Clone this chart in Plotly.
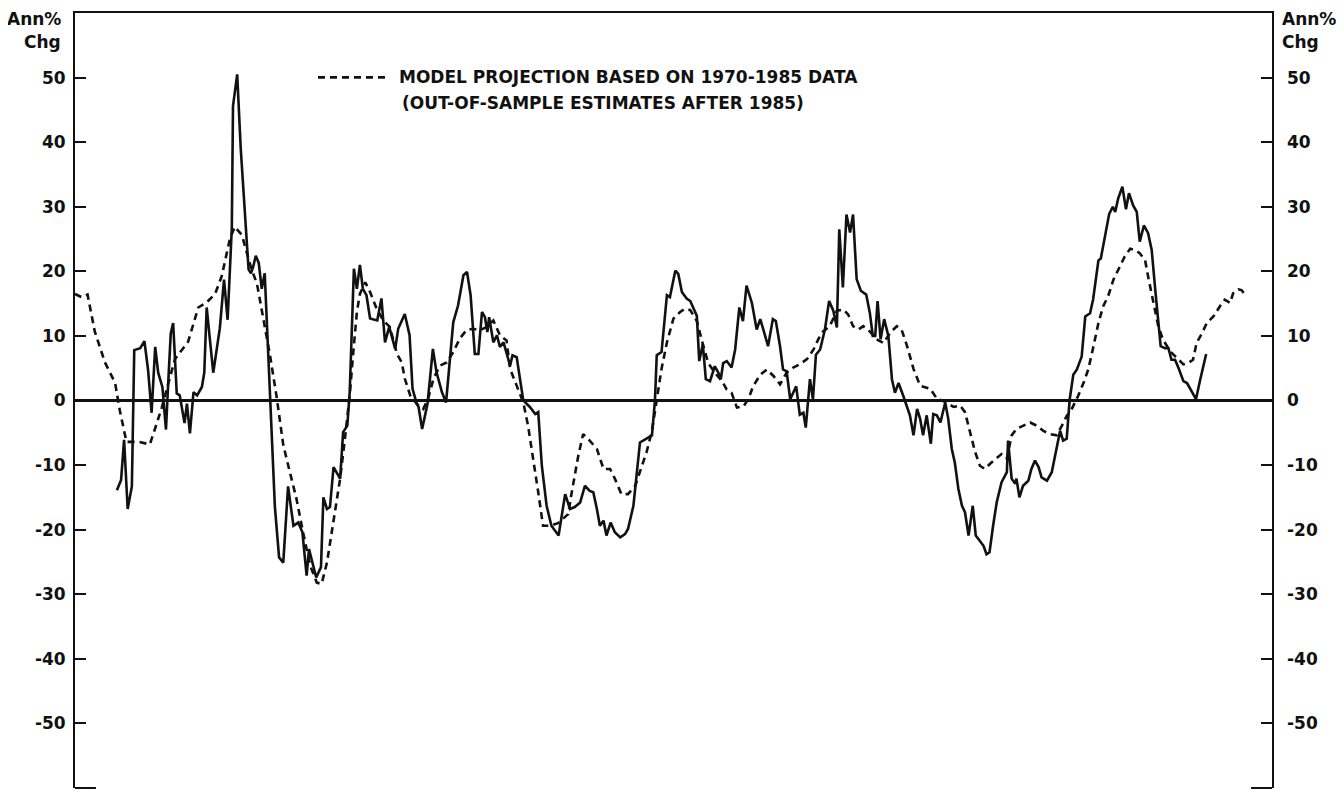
import plotly.graph_objects as go

# ---- data (x = decimal year, y = annual % change) ----
model_years = [1970.00, 1970.11, 1970.21, 1970.33, 1970.50, 1970.67, 1970.75, 1970.86, 1971.06, 1971.25,
               1971.34, 1971.45, 1971.56, 1971.67, 1971.89, 1972.06, 1972.20, 1972.34, 1972.45, 1972.59,
               1972.67, 1972.79, 1972.87, 1972.95, 1973.04, 1973.15, 1973.26, 1973.37, 1973.48, 1973.59,
               1973.70, 1973.81, 1973.93, 1974.04, 1974.12, 1974.21, 1974.32, 1974.43, 1974.51, 1974.59,
               1974.65, 1974.71, 1974.76, 1974.85, 1974.93, 1975.04, 1975.15, 1975.26, 1975.38, 1975.46,
               1975.51, 1975.60, 1975.71, 1975.82, 1975.90, 1975.99, 1976.10, 1976.21, 1976.32, 1976.43,
               1976.54, 1976.65, 1976.77, 1976.88, 1976.99, 1977.10, 1977.21, 1977.27, 1977.38, 1977.49,
               1977.57, 1977.66, 1977.74, 1977.82, 1977.94, 1978.07, 1978.24, 1978.30, 1978.41, 1978.49,
               1978.60, 1978.72, 1978.83, 1978.94, 1979.02, 1979.13, 1979.24, 1979.36, 1979.44, 1979.55,
               1979.64, 1979.72, 1979.80, 1979.89, 1980.00, 1980.11, 1980.19, 1980.28, 1980.39, 1980.50,
               1980.58, 1980.69, 1980.81, 1980.89, 1980.97, 1981.06, 1981.17, 1981.25, 1981.33, 1981.45,
               1981.56, 1981.67, 1981.78, 1981.89, 1982.00, 1982.11, 1982.23, 1982.34, 1982.42, 1982.50,
               1982.61, 1982.73, 1982.84, 1982.92, 1983.00, 1983.09, 1983.17, 1983.28, 1983.39, 1983.51,
               1983.62, 1983.73, 1983.81, 1983.90, 1984.01, 1984.12, 1984.29, 1984.40, 1984.56, 1984.68,
               1984.79, 1984.87, 1984.95, 1985.04, 1985.12, 1985.20, 1985.29, 1985.40, 1985.48, 1985.57,
               1985.65, 1985.73, 1985.84, 1985.96, 1986.07, 1986.18, 1986.29, 1986.40, 1986.49, 1986.57,
               1986.65, 1986.76, 1986.85, 1986.93, 1987.01, 1987.10, 1987.18, 1987.26, 1987.35, 1987.46,
               1987.54, 1987.63, 1987.71, 1987.79, 1987.88, 1987.93, 1987.99, 1988.05, 1988.10, 1988.18,
               1988.30, 1988.41, 1988.52, 1988.60, 1988.68, 1988.74, 1988.83, 1988.91, 1989.02, 1989.13,
               1989.21, 1989.30, 1989.35, 1989.44, 1989.49, 1989.55]
model_values = [16.5, 16.0, 16.4, 10.7, 5.9, 2.7, -1.6, -6.4, -6.4, -6.8,
                -4.3, -1.1, 2.7, 6.4, 9.1, 14.4, 15.2, 16.5, 19.2, 25.1,
                26.9, 25.6, 22.9, 20.3, 18.1, 12.8, 6.9, 0.5, -6.9, -11.1,
                -15.2, -20.4, -25.6, -28.2, -28.4, -25.1, -18.9, -12.1, -5.9, 0.8,
                7.5, 13.7, 16.5, 18.3, 16.8, 14.2, 12.4, 11.4, 7.2, 5.9,
                3.4, 0.8, -0.5, -1.3, 0.3, 3.4, 5.4, 5.9, 7.5, 9.6,
                10.9, 11.1, 10.9, 11.4, 12.4, 10.1, 9.3, 4.9, 2.3, -0.3,
                -3.9, -9.0, -14.2, -19.4, -19.4, -19.0, -17.6, -14.2, -8.5, -5.2,
                -6.2, -7.5, -10.6, -10.6, -12.1, -14.5, -14.5, -13.2, -11.1, -8.0,
                -4.7, 0.3, 4.9, 9.0, 12.7, 13.7, 14.2, 14.0, 12.3, 8.4,
                5.8, 4.3, 3.0, 1.7, 1.2, -1.1, -0.9, 0.2, 2.2, 4.0,
                4.8, 3.8, 2.5, 4.3, 5.1, 5.6, 6.4, 7.9, 9.5, 10.7,
                11.5, 13.9, 14.1, 13.3, 11.5, 11.0, 11.5, 10.7, 9.5, 8.9,
                10.5, 11.5, 11.0, 8.5, 4.9, 2.3, 1.8, 0.3, -0.3, -1.0,
                -0.8, -1.8, -4.9, -8.0, -10.1, -10.6, -9.8, -9.0, -8.3, -9.0,
                -5.4, -4.4, -3.9, -3.4, -3.9, -4.7, -5.2, -5.4, -3.9, -2.4,
                -1.4, 0.7, 2.7, 4.8, 8.1, 12.0, 14.6, 16.1, 18.7, 20.7,
                22.3, 23.5, 23.3, 22.8, 21.7, 19.2, 16.6, 14.0, 11.5, 9.4,
                7.6, 6.6, 5.6, 5.8, 6.3, 8.9, 10.4, 12.0, 13.0, 14.6,
                15.6, 15.1, 16.6, 17.2, 17.1, 16.4]

actual_years = [1970.70, 1970.77, 1970.82, 1970.88, 1970.95, 1970.99, 1971.09, 1971.16, 1971.22, 1971.28,
                1971.34, 1971.39, 1971.46, 1971.52, 1971.56, 1971.60, 1971.64, 1971.70, 1971.75, 1971.83,
                1971.87, 1971.92, 1971.98, 1972.04, 1972.12, 1972.16, 1972.20, 1972.31, 1972.42, 1972.49,
                1972.55, 1972.62, 1972.64, 1972.71, 1972.77, 1972.81, 1972.90, 1972.94, 1972.98, 1973.02,
                1973.07, 1973.12, 1973.17, 1973.23, 1973.29, 1973.34, 1973.41, 1973.48, 1973.56, 1973.65,
                1973.73, 1973.80, 1973.87, 1973.91, 1974.03, 1974.11, 1974.15, 1974.21, 1974.26, 1974.32,
                1974.43, 1974.48, 1974.55, 1974.59, 1974.66, 1974.71, 1974.76, 1974.81, 1974.87, 1974.93,
                1975.05, 1975.12, 1975.18, 1975.25, 1975.35, 1975.40, 1975.51, 1975.59, 1975.64, 1975.71,
                1975.74, 1975.80, 1975.89, 1975.98, 1976.04, 1976.13, 1976.20, 1976.25, 1976.32, 1976.40,
                1976.49, 1976.55, 1976.61, 1976.68, 1976.74, 1976.80, 1976.85, 1976.89, 1976.92, 1976.99,
                1977.05, 1977.10, 1977.16, 1977.27, 1977.31, 1977.38, 1977.44, 1977.49, 1977.60, 1977.69,
                1977.74, 1977.80, 1977.88, 1977.96, 1978.08, 1978.19, 1978.27, 1978.35, 1978.44, 1978.52,
                1978.60, 1978.66, 1978.72, 1978.77, 1978.83, 1978.88, 1978.95, 1979.02, 1979.11, 1979.19,
                1979.24, 1979.33, 1979.44, 1979.55, 1979.64, 1979.69, 1979.72, 1979.80, 1979.89, 1979.94,
                1980.03, 1980.08, 1980.14, 1980.22, 1980.28, 1980.39, 1980.43, 1980.49, 1980.54, 1980.61,
                1980.69, 1980.75, 1980.79, 1980.83, 1980.89, 1980.97, 1981.03, 1981.10, 1981.16, 1981.22,
                1981.31, 1981.39, 1981.45, 1981.51, 1981.58, 1981.66, 1981.71, 1981.78, 1981.83, 1981.89,
                1981.95, 1982.05, 1982.11, 1982.17, 1982.21, 1982.28, 1982.33, 1982.38, 1982.45, 1982.53,
                1982.60, 1982.67, 1982.73, 1982.77, 1982.83, 1982.89, 1982.95, 1983.00, 1983.06, 1983.13,
                1983.22, 1983.28, 1983.33, 1983.37, 1983.41, 1983.46, 1983.52, 1983.59, 1983.65, 1983.70,
                1983.76, 1983.84, 1983.90, 1983.95, 1984.01, 1984.07, 1984.12, 1984.17, 1984.23, 1984.30,
                1984.34, 1984.40, 1984.46, 1984.54, 1984.59, 1984.65, 1984.70, 1984.76, 1984.82, 1984.87,
                1984.93, 1985.00, 1985.05, 1985.12, 1985.18, 1985.23, 1985.28, 1985.34, 1985.40, 1985.48,
                1985.57, 1985.59, 1985.65, 1985.71, 1985.73, 1985.78, 1985.84, 1985.93, 1985.98, 1986.04,
                1986.10, 1986.15, 1986.24, 1986.32, 1986.40, 1986.46, 1986.51, 1986.57, 1986.62, 1986.68,
                1986.74, 1986.82, 1986.88, 1986.96, 1987.01, 1987.10, 1987.14, 1987.21, 1987.28, 1987.34,
                1987.38, 1987.43, 1987.50, 1987.56, 1987.61, 1987.68, 1987.74, 1987.79, 1987.86, 1987.93,
                1987.99, 1988.05, 1988.10, 1988.14, 1988.21, 1988.27, 1988.32, 1988.38, 1988.44, 1988.52,
                1988.58, 1988.66, 1988.73, 1988.80, 1988.90]
actual_values = [-13.9, -12.3, -6.1, -16.8, -13.3, 7.8, 8.1, 9.2, 4.8, -1.9,
                 8.3, 4.3, 2.1, -4.5, 3.2, 10.4, 12.0, 1.1, 0.8, -3.5,
                 -0.5, -5.1, 1.3, 0.8, 2.1, 4.3, 14.4, 4.3, 11.2, 18.7,
                 12.5, 26.7, 45.6, 50.5, 38.9, 33.6, 20.3, 19.7, 20.8, 22.4,
                 21.3, 17.3, 19.7, 6.9, -5.9, -16.5, -24.3, -25.1, -13.3, -19.4,
                 -18.9, -20.4, -27.1, -23.0, -27.4, -25.8, -15.0, -16.8, -16.5, -10.3,
                 -12.1, -4.9, -3.9, 1.3, 20.4, 17.3, 21.0, 17.3, 16.3, 12.7,
                 12.4, 15.8, 9.0, 11.4, 8.0, 11.1, 13.4, 10.1, 1.8, -0.5,
                 -1.0, -4.4, -0.5, 8.0, 4.4, 1.3, -0.3, 4.4, 12.1, 14.7,
                 19.4, 19.9, 16.3, 7.2, 7.2, 13.7, 12.9, 10.6, 12.9, 9.0,
                 10.1, 8.3, 9.0, 5.4, 7.0, 6.7, 3.4, 0.0, -1.0, -2.1,
                 -1.8, -10.1, -16.3, -19.4, -20.9, -14.5, -16.8, -16.5, -15.8, -13.2,
                 -14.0, -14.2, -16.8, -19.4, -18.6, -20.9, -18.9, -20.4, -21.2, -20.7,
                 -19.9, -16.3, -6.5, -5.9, -5.4, 0.0, 7.0, 7.5, 16.3, 16.0,
                 20.1, 19.6, 16.8, 15.8, 15.4, 13.1, 6.1, 8.7, 3.3, 3.0,
                 5.3, 4.3, 3.3, 5.8, 6.1, 5.1, 7.9, 14.4, 12.3, 17.8,
                 15.1, 11.0, 12.6, 10.7, 8.4, 12.6, 12.3, 8.4, 4.8, 4.5,
                 0.2, 2.2, -2.2, -1.9, -4.2, 3.3, 0.2, 7.1, 7.9, 11.0,
                 15.4, 13.9, 11.3, 26.5, 17.5, 28.8, 26.0, 28.8, 18.8, 17.0,
                 16.4, 13.6, 10.0, 10.0, 15.4, 9.5, 12.6, 10.0, 3.3, 1.2,
                 2.7, 0.7, -1.0, -2.3, -5.4, -1.3, -2.8, -5.4, -2.3, -6.7,
                 -2.1, -2.3, -3.4, -0.3, -2.8, -7.5, -9.6, -13.7, -16.3, -17.3,
                 -20.9, -16.3, -20.9, -21.7, -22.5, -23.8, -23.5, -19.4, -15.8, -12.7,
                 -11.1, -6.2, -12.1, -12.9, -12.1, -15.0, -13.2, -12.4, -10.6, -9.3,
                 -10.3, -11.9, -12.4, -11.1, -7.5, -4.7, -6.2, -5.9, 0.2, 4.0,
                 4.8, 6.8, 13.0, 13.5, 15.6, 21.7, 22.0, 25.3, 28.9, 30.0,
                 29.2, 31.3, 33.1, 29.6, 32.1, 30.2, 29.2, 24.6, 27.1, 25.9,
                 23.3, 17.1, 12.0, 8.4, 8.1, 8.1, 6.3, 6.3, 5.0, 3.0,
                 2.7, 1.4, 0.2, 3.2, 7.2]

tick_values = [50, 40, 30, 20, 10, 0, -10, -20, -30, -40, -50]
tick_labels = ["50", "40", "30", "20", "10", "0", "-10", "-20", "-30", "-40", "-50"]
y_range = [-60, 60]
x_range = [1970, 1990]
legend_line1 = "MODEL PROJECTION BASED ON 1970-1985 DATA"
legend_line2 = "(OUT-OF-SAMPLE ESTIMATES AFTER 1985)"
axis_title_1 = "Ann%"
axis_title_2 = "Chg"

FONT = "DejaVu Sans, Liberation Sans, Arial, sans-serif"
INK = "#111111"

fig = go.Figure()
fig.add_trace(go.Scatter(x=model_years, y=model_values, mode="lines",
                         line=dict(color=INK, width=2.6, dash="7px,5px"),
                         showlegend=False, hoverinfo="skip"))
fig.add_trace(go.Scatter(x=actual_years, y=actual_values, mode="lines",
                         line=dict(color=INK, width=2.6),
                         showlegend=False, hoverinfo="skip"))
# invisible trace to activate right axis
fig.add_trace(go.Scatter(x=[x_range[0]], y=[0], yaxis="y2", mode="markers",
                         marker=dict(opacity=0), showlegend=False, hoverinfo="skip"))

tickfont = dict(family=FONT, size=17, color=INK, weight=700)
textfont = dict(family=FONT, size=17, color=INK, weight=700)

fig.update_layout(
    width=1336, height=784,
    margin=dict(l=67, r=72, t=5, b=4),
    paper_bgcolor="white", plot_bgcolor="white",
    xaxis=dict(range=x_range, side="top", showline=True, linecolor=INK, linewidth=2,
               showticklabels=False, ticks="", showgrid=False, zeroline=False),
    yaxis=dict(range=y_range, tickvals=tick_values, ticktext=tick_labels,
               ticks="inside", ticklen=11, tickwidth=2, tickcolor=INK,
               showline=True, linecolor=INK, linewidth=2, mirror="ticks",
               showgrid=False, zeroline=True, zerolinecolor=INK, zerolinewidth=2.5,
               tickfont=tickfont, ticklabelstandoff=4),
    yaxis2=dict(range=y_range, overlaying="y", side="right", tickvals=tick_values,
                ticktext=tick_labels, ticks="", showline=False, showgrid=False,
                zeroline=False, tickfont=tickfont, ticklabelstandoff=14),
    showlegend=False,
)

# top-left / top-right axis titles
for xpos, anchor, shift in [(0, "right", -12), (1, "left", 8)]:
    fig.add_annotation(xref="paper", yref="paper", x=xpos, y=1, xanchor=anchor, yanchor="middle",
                       xshift=shift, yshift=-6, text=axis_title_1, showarrow=False, font=textfont)
    fig.add_annotation(xref="paper", yref="paper", x=xpos, y=1, xanchor=anchor, yanchor="middle",
                       xshift=shift, yshift=-29, text=axis_title_2, showarrow=False, font=textfont)

# legend key
fig.add_annotation(xref="paper", yref="paper", x=0.269, y=0.917, xanchor="left", yanchor="middle",
                   text=legend_line1, showarrow=False, font=textfont)
fig.add_annotation(xref="paper", yref="paper", x=0.2715, y=0.884, xanchor="left", yanchor="middle",
                   text=legend_line2, showarrow=False, font=textfont)
fig.add_shape(type="line", xref="paper", yref="paper", x0=0.203, x1=0.263, y0=0.917, y1=0.917,
              line=dict(color=INK, width=2.6, dash="7px,5px"))

# short bottom corner ticks
fig.add_shape(type="line", xref="paper", yref="paper", x0=0, x1=0.0175, y0=0, y1=0,
              line=dict(color=INK, width=2))
fig.add_shape(type="line", xref="paper", yref="paper", x0=0.9825, x1=1, y0=0, y1=0,
              line=dict(color=INK, width=2))

fig.write_html("out.html")
